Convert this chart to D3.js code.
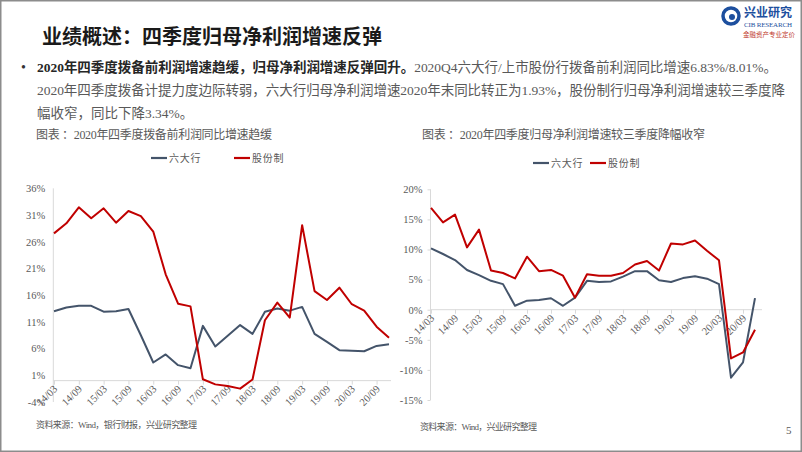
<!DOCTYPE html>
<html><head><meta charset="utf-8">
<script src="https://cdn.jsdelivr.net/npm/d3@7"></script>
<style>html,body{margin:0;padding:0;background:#fff;}svg{display:block;}</style>
</head><body>
<svg id="c" width="802" height="452"></svg>
<script>
const quarters = ["14/03","14/06","14/09","14/12","15/03","15/06","15/09","15/12","16/03","16/06","16/09","16/12","17/03","17/06","17/09","17/12","18/03","18/06","18/09","18/12","19/03","19/06","19/09","19/12","20/03","20/06","20/09","20/12"];
const seriesNames = ["六大行","股份制"];
// 拨备前利润同比增速 (%)
const bigSixPPOP = [13.0,13.7,14.0,14.0,12.9,13.0,13.4,8.5,3.4,4.9,2.9,2.3,10.25,6.4,8.4,10.4,8.75,12.9,13.5,13.1,13.8,8.75,7.25,5.7,5.6,5.5,6.5,6.83];
const jointPPOP = [27.56,29.44,32.44,30.4,32.25,29.56,31.75,30.8,27.9,19.9,14.4,13.9,0.25,-0.7,-1.0,-1.5,0.2,11.3,14.6,11.8,29.1,16.75,15.1,17.4,14.3,13.1,10.1,8.01];
// 归母净利润增速 (%)
const bigSixNet = [10.2,9.25,8.25,6.6,5.75,4.8,4.25,0.65,1.5,1.6,1.9,0.65,2.0,4.8,4.6,4.7,5.5,6.4,6.4,4.9,4.6,5.25,5.55,5.15,4.25,-11.3,-8.75,1.93];
const jointNet = [16.9,14.5,15.8,10.35,13.3,6.5,6.1,5.2,8.8,6.4,6.6,5.65,2.0,5.9,5.65,5.65,6.1,7.5,8.1,6.5,11.0,10.85,11.5,9.8,8.2,-8.1,-7.1,-3.34];
const leftTicks = [-4,1,6,11,16,21,26,31,36];
const rightTicks = [-15,-10,-5,0,5,10,15,20];
const xTickLabels = quarters.filter((d,i)=>i%2===0);

const BLUE = "#44546a", RED = "#c00000", GRAY = "#595959", AXIS = "#d9d9d9";
const SERIF = "'Liberation Serif','Noto Sans CJK SC',serif";
const svg = d3.select("#c");

// frame
svg.append("rect").attr("x",0.75).attr("y",0.75).attr("width",800.5).attr("height",450.5)
  .attr("fill","none").attr("stroke","#8c8c8c").attr("stroke-width",1.5);

// title
svg.append("text").attr("x",42).attr("y",44).attr("font-family","'Noto Sans CJK SC',sans-serif")
  .attr("font-size",20).attr("font-weight",700).attr("fill","#1a1a1a").text("业绩概述：四季度归母净利润增速反弹");

// logo
const lg = svg.append("g");
lg.append("circle").attr("cx",731).attr("cy",16).attr("r",8).attr("fill","none").attr("stroke","#1d4f9e").attr("stroke-width",3.5);
lg.append("circle").attr("cx",732).attr("cy",17).attr("r",3).attr("fill","#1d4f9e");
lg.append("text").attr("x",744).attr("y",17).attr("font-family","'Noto Sans CJK SC',sans-serif").attr("font-size",12).attr("font-weight",700).attr("fill","#1d4f9e").text("兴业研究");
lg.append("text").attr("x",744).attr("y",27).attr("font-family",SERIF).attr("font-size",7).attr("fill","#1d4f9e").attr("textLength",48).text("CIB RESEARCH");
lg.append("text").attr("x",743).attr("y",37).attr("font-family","'Noto Sans CJK SC',sans-serif").attr("font-size",6.5).attr("fill","#c0392b").attr("textLength",52).text("金融资产专业定价");

// bullet paragraph
svg.append("text").attr("x",21).attr("y",72).attr("font-size",14).attr("fill","#333").text("•");
const fs = 13.5;
const l1 = svg.append("text").attr("x",37).attr("y",72).attr("font-family",SERIF).attr("font-size",fs).attr("textLength",740).attr("lengthAdjust","spacing");
l1.append("tspan").attr("font-weight",700).attr("fill","#262626").text("2020年四季度拨备前利润增速趋缓，归母净利润增速反弹回升。");
l1.append("tspan").attr("fill",GRAY).text("2020Q4六大行/上市股份行拨备前利润同比增速6.83%/8.01%。");
svg.append("text").attr("x",37).attr("y",95).attr("font-family",SERIF).attr("font-size",fs).attr("fill",GRAY)
  .attr("textLength",748).attr("lengthAdjust","spacing")
  .text("2020年四季度拨备计提力度边际转弱，六大行归母净利润增速2020年末同比转正为1.93%，股份制行归母净利润增速较三季度降");
svg.append("text").attr("x",37).attr("y",118).attr("font-family",SERIF).attr("font-size",fs).attr("fill",GRAY)
  .text("幅收窄，同比下降3.34%。");

function chart(o){
  const g = svg.append("g");
  g.append("text").attr("x",o.titleX).attr("y",139).attr("font-family",SERIF).attr("font-size",12).attr("fill",GRAY)
    .attr("textLength",o.titleLen).attr("lengthAdjust","spacing").text(o.title);
  // legend
  const lgd = [{n:seriesNames[0],c:BLUE,x:o.leg[0]},{n:seriesNames[1],c:RED,x:o.leg[1]}];
  lgd.forEach(d=>{
    g.append("line").attr("x1",d.x).attr("x2",d.x+16).attr("y1",o.legY).attr("y2",o.legY).attr("stroke",d.c).attr("stroke-width",2.2);
    g.append("text").attr("x",d.x+18).attr("y",o.legY+4).attr("font-family",SERIF).attr("font-size",10).attr("letter-spacing",0.8).attr("fill",GRAY).text(d.n);
  });
  const x = d3.scalePoint().domain(quarters).range(o.xr);
  const y = d3.scaleLinear().domain(o.yd).range(o.yr);
  // y axis
  const ya = g.append("g").attr("transform",`translate(${o.axX},0)`)
    .call(d3.axisLeft(y).tickValues(o.ticks).tickSize(o.yTick).tickPadding(o.yPad).tickFormat(d=>d+"%"));
  ya.select(".domain").attr("stroke",AXIS).attr("d",`M0,${o.yr[0]}V${o.yr[1]}`);
  ya.selectAll(".tick line").attr("stroke",AXIS);
  ya.selectAll(".tick text").attr("font-family",SERIF).attr("font-size",10.5).attr("fill",GRAY);
  // x axis at 0
  const y0 = y(0);
  const xa = g.append("g").attr("transform",`translate(0,${y0})`)
    .call(d3.axisBottom(x).tickValues(xTickLabels).tickSize(4).tickFormat(""));
  xa.select(".domain").attr("stroke",AXIS).attr("d",`M${o.axX},0H${o.xEnd}`);
  xa.selectAll(".tick line").attr("stroke",AXIS);
  xTickLabels.forEach(q=>{
    g.append("text").attr("transform",`translate(${x(q)+4},${y0+9}) rotate(-45)`)
      .attr("text-anchor","end").attr("font-family",SERIF).attr("font-size",10.5).attr("fill",GRAY).text(q);
  });
  const line = d3.line().x((d,i)=>x(quarters[i])).y(d=>y(d));
  [[o.s1,BLUE],[o.s2,RED]].forEach(([s,c])=>{
    g.append("path").datum(s).attr("d",line).attr("fill","none").attr("stroke",c).attr("stroke-width",2).attr("stroke-linejoin","round");
  });
}

chart({title:"图表 ：2020年四季度拨备前利润同比增速趋缓", titleX:36, titleLen:236,
  leg:[151,234], legY:158, xr:[54,389], yd:[-4,36], yr:[402,188.3], axX:53.3, xEnd:391,
  ticks:leftTicks, yTick:0, yPad:8, s1:bigSixPPOP, s2:jointPPOP});
chart({title:"图表 ：2020年四季度归母净利润增速较三季度降幅收窄", titleX:422, titleLen:283,
  leg:[533,590], legY:163, xr:[431,755], yd:[-15,20], yr:[400,189.3], axX:430.5, xEnd:762,
  ticks:rightTicks, yTick:3, yPad:5, s1:bigSixNet, s2:jointNet});

// footers
svg.append("text").attr("x",36).attr("y",428).attr("font-family",SERIF).attr("font-size",9).attr("fill",GRAY).attr("textLength",161).text("资料来源：Wind，银行财报，兴业研究整理");
svg.append("text").attr("x",420).attr("y",430).attr("font-family",SERIF).attr("font-size",9).attr("fill",GRAY).attr("textLength",117).text("资料来源：Wind，兴业研究整理");
svg.append("text").attr("x",786).attr("y",434).attr("font-family",SERIF).attr("font-size",11).attr("fill",GRAY).text("5");
</script>
</body></html>
